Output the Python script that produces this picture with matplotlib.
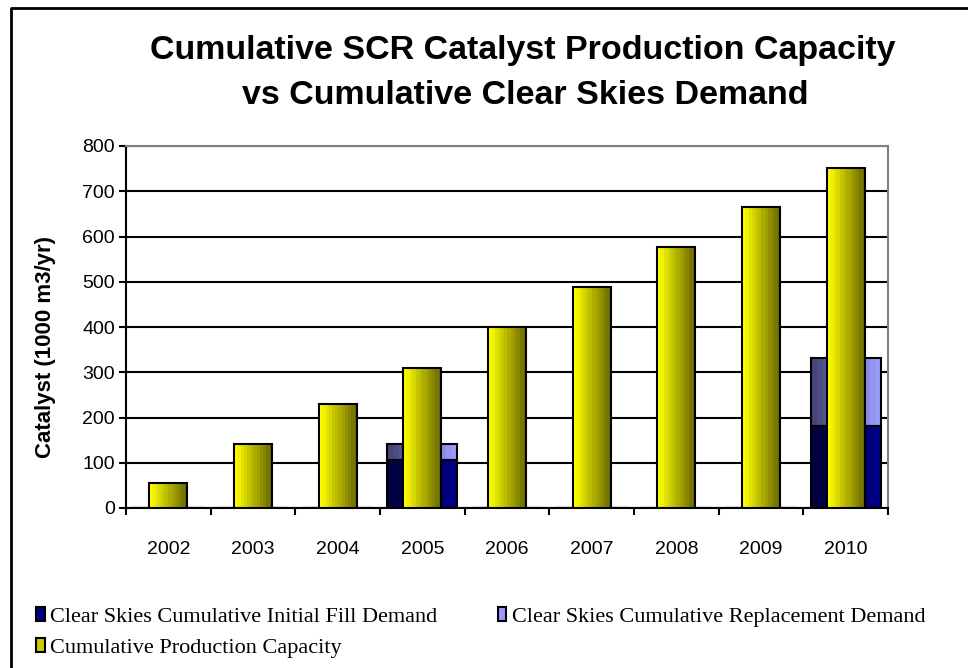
import numpy as np
import matplotlib.pyplot as plt
from matplotlib.colors import LinearSegmentedColormap
from matplotlib.lines import Line2D
from matplotlib.patches import Patch

years = ['2002', '2003', '2004', '2005', '2006', '2007', '2008', '2009', '2010']
initial_fill = [0, 0, 0, 106, 0, 0, 0, 0, 181]
replacement = [0, 0, 0, 36, 0, 0, 0, 0, 150]
capacity = [55, 142, 230, 310, 400, 488, 577, 665, 752]


def gradient_fill(ax, bars, c_left, c_right, steps=12):
    # banded left-to-right shading, clipped to each bar
    cmap = LinearSegmentedColormap.from_list('g', [c_left, c_right], N=steps)
    grad = np.linspace(0, 1, 256).reshape(1, -1)
    for b in bars:
        h = b.get_height()
        if h <= 0:
            continue
        x0, y0, w = b.get_x(), b.get_y(), b.get_width()
        im = ax.imshow(grad, cmap=cmap, aspect='auto', interpolation='nearest',
                       extent=[x0, x0 + w, y0, y0 + h], zorder=b.get_zorder() - 0.01)
        im.set_clip_path(b)


fig = plt.figure(figsize=(9.68, 6.68), dpi=100)
ax = fig.add_axes([126 / 968, 1 - 508 / 668, 762 / 968, 362 / 668])

x = np.arange(len(years))
back_w = 0.83
front_w = 0.45

b1 = ax.bar(x, initial_fill, back_w, facecolor='none', edgecolor='black', linewidth=1.5, zorder=3)
b2 = ax.bar(x, replacement, back_w, bottom=initial_fill, facecolor='none',
            edgecolor='black', linewidth=1.5, zorder=3)
b3 = ax.bar(x, capacity, front_w, facecolor='none', edgecolor='black', linewidth=1.5, zorder=5)

gradient_fill(ax, b1, '#00003c', '#000088')
gradient_fill(ax, b2, '#45457a', '#9c9cff')
gradient_fill(ax, b3, '#ffff00', '#6a6a00')

ax.set_xlim(-0.5, len(years) - 0.5)
ax.set_ylim(0, 800)
ax.set_yticks(np.arange(0, 801, 100))
ax.set_xticks(x)
ax.set_xticklabels(years)
ax.set_xticks(np.arange(-0.5, len(years)), minor=True)
ax.tick_params(axis='x', which='major', length=0, pad=24, labelsize=14)
ax.tick_params(axis='x', which='minor', length=5, width=1.5, direction='out')
ax.tick_params(axis='y', length=5, width=1.5, direction='out', labelsize=14, pad=3)
for lab in ax.get_xticklabels() + ax.get_yticklabels():
    lab.set_family('Liberation Sans')

ax.yaxis.grid(True, color='black', linewidth=1.5, zorder=0)
ax.set_axisbelow(True)

ax.spines['left'].set_linewidth(1.5)
ax.spines['bottom'].set_linewidth(1.5)
ax.spines['top'].set_color('#808080')
ax.spines['right'].set_color('#808080')
ax.spines['top'].set_linewidth(1.5)
ax.spines['right'].set_linewidth(1.5)

ax.set_ylabel('Catalyst (1000 m3/yr)', family='Liberation Sans', fontweight='bold', fontsize=16)
ax.yaxis.set_label_coords(-70 / 762, 0.445)

fig.text(523 / 968, 1 - 50 / 668, 'Cumulative SCR Catalyst Production Capacity',
         ha='center', va='center', family='Liberation Sans', fontweight='bold', fontsize=24.5)
fig.text(525 / 968, 1 - 95 / 668, 'vs Cumulative Clear Skies Demand',
         ha='center', va='center', family='Liberation Sans', fontweight='bold', fontsize=24.5)

# outer chart frame (only left and top edges are visible)
fig.add_artist(Line2D([10.5 / 968, 10.5 / 968, 1], [0, 1 - 7.5 / 668, 1 - 7.5 / 668],
                      color='black', linewidth=2, transform=fig.transFigure))

h_init = Patch(facecolor='#000080', edgecolor='black', linewidth=1.5)
h_repl = Patch(facecolor='#9999ff', edgecolor='black', linewidth=1.5)
h_cap = Patch(facecolor='#cccc00', edgecolor='black', linewidth=1.5)
# ncol fills column-wise, so order gives rows: initial | replacement, capacity
leg = fig.legend([h_init, h_cap, h_repl],
                 ['Clear Skies Cumulative Initial Fill Demand',
                  'Cumulative Production Capacity',
                  'Clear Skies Cumulative Replacement Demand'],
                 loc='upper left', bbox_to_anchor=(36 / 968, 1 - 607 / 668),
                 ncol=2, frameon=False, prop={'family': 'Liberation Serif', 'size': 16},
                 handlelength=0.4, handleheight=0.6, handletextpad=0.25,
                 columnspacing=2.7, labelspacing=0.5, borderaxespad=0, borderpad=0)

fig.savefig('out.png', dpi=100)
